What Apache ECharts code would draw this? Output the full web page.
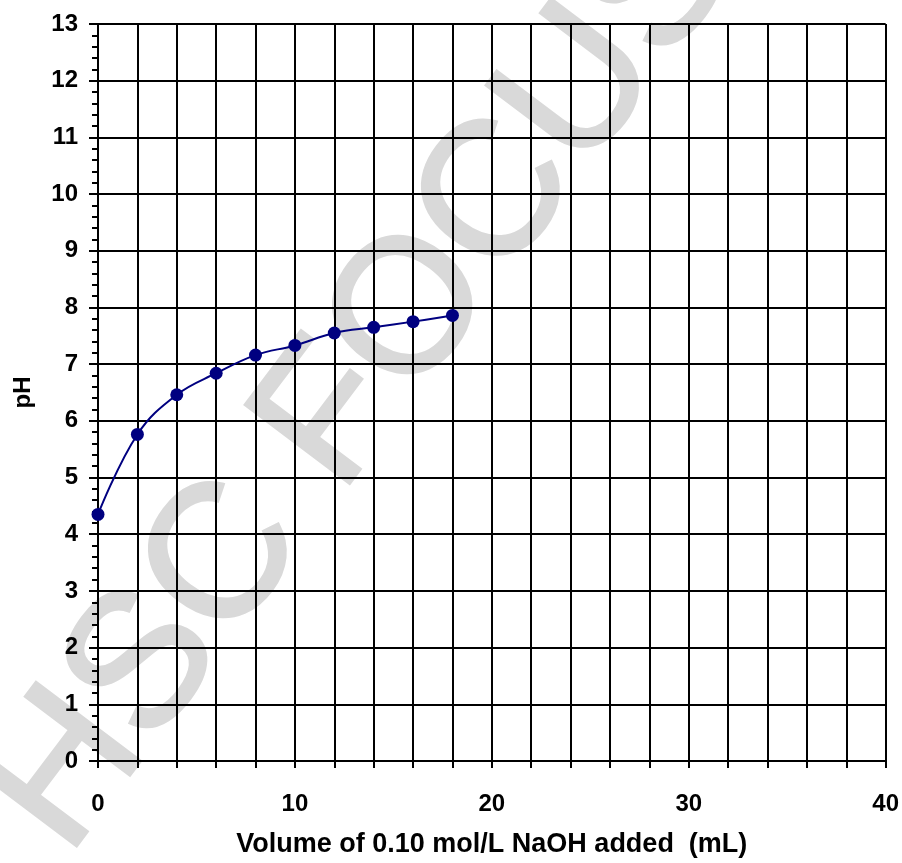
<!DOCTYPE html>
<html>
<head>
<meta charset="utf-8">
<script src="https://cdn.jsdelivr.net/npm/echarts@6/dist/echarts.min.js"></script>
<style>
  html, body { margin: 0; padding: 0; background: #fff; }
  #chart { width: 902px; height: 863px; }
</style>
</head>
<body>
<div id="chart"></div>
<script>
// titration readings
const volumeML = [0, 2, 4, 6, 8, 10, 12, 14, 16, 18];
const pHValues = [4.35, 5.76, 6.46, 6.84, 7.16, 7.33, 7.55, 7.65, 7.75, 7.86];
const xLabelValues = [0, 10, 20, 30, 40];

const FONT = 'Arial, "Liberation Sans", sans-serif';

const chart = echarts.init(document.getElementById("chart"));

chart.setOption({
  backgroundColor: "#fff",
  animation: false,
  grid: { left: 98, right: 16, top: 24, bottom: 97 },
  graphic: [
    {
      // faint watermark behind the grid
      type: "text",
      z: -10,
      x: 362,
      y: 380,
      rotation: (53 * Math.PI) / 180,
      silent: true,
      style: {
        text: "HSC FOCUS",
        fontSize: 190,
        fontFamily: FONT,
        fill: "#d9d9d9",
        stroke: "#d9d9d9",
        lineWidth: 3,
        align: "center",
        verticalAlign: "middle"
      }
    }
  ],
  xAxis: {
    type: "value",
    min: 0,
    max: 40,
    interval: 2,
    name: "Volume of 0.10 mol/L NaOH added  (mL)",
    nameLocation: "middle",
    nameGap: 70,
    nameTextStyle: { fontSize: 27, fontWeight: "bold", color: "#000", fontFamily: FONT },
    axisLine: { show: true, onZero: false, lineStyle: { color: "#000", width: 2 } },
    axisTick: { show: true, length: 7, lineStyle: { color: "#000", width: 2 } },
    axisLabel: {
      margin: 31,
      fontSize: 24,
      fontWeight: "bold",
      color: "#000",
      fontFamily: FONT,
      formatter: function(v) {
        return xLabelValues.indexOf(v) >= 0 ? String(v) : "";
      }
    },
    splitLine: { show: true, lineStyle: { color: "#000", width: 2 } }
  },
  yAxis: {
    type: "value",
    min: 0,
    max: 13,
    interval: 1,
    name: "pH",
    nameLocation: "middle",
    nameGap: 63,
    nameTextStyle: { fontSize: 24, fontWeight: "bold", color: "#000", fontFamily: FONT },
    axisLine: { show: true, onZero: false, lineStyle: { color: "#000", width: 2 } },
    axisTick: { show: true, length: 9, lineStyle: { color: "#000", width: 2 } },
    minorTick: { show: true, splitNumber: 5, length: 6, lineStyle: { color: "#000", width: 2 } },
    axisLabel: {
      margin: 20,
      fontSize: 24,
      fontWeight: "bold",
      color: "#000",
      fontFamily: FONT
    },
    splitLine: { show: true, lineStyle: { color: "#000", width: 2 } }
  },
  series: [
    {
      name: "pH",
      type: "line",
      smooth: 0.4,
      symbol: "circle",
      symbolSize: 13,
      lineStyle: { color: "#000080", width: 2 },
      itemStyle: { color: "#000080" },
      data: volumeML.map((v, i) => [v, pHValues[i]])
    }
  ]
});
</script>
</body>
</html>
